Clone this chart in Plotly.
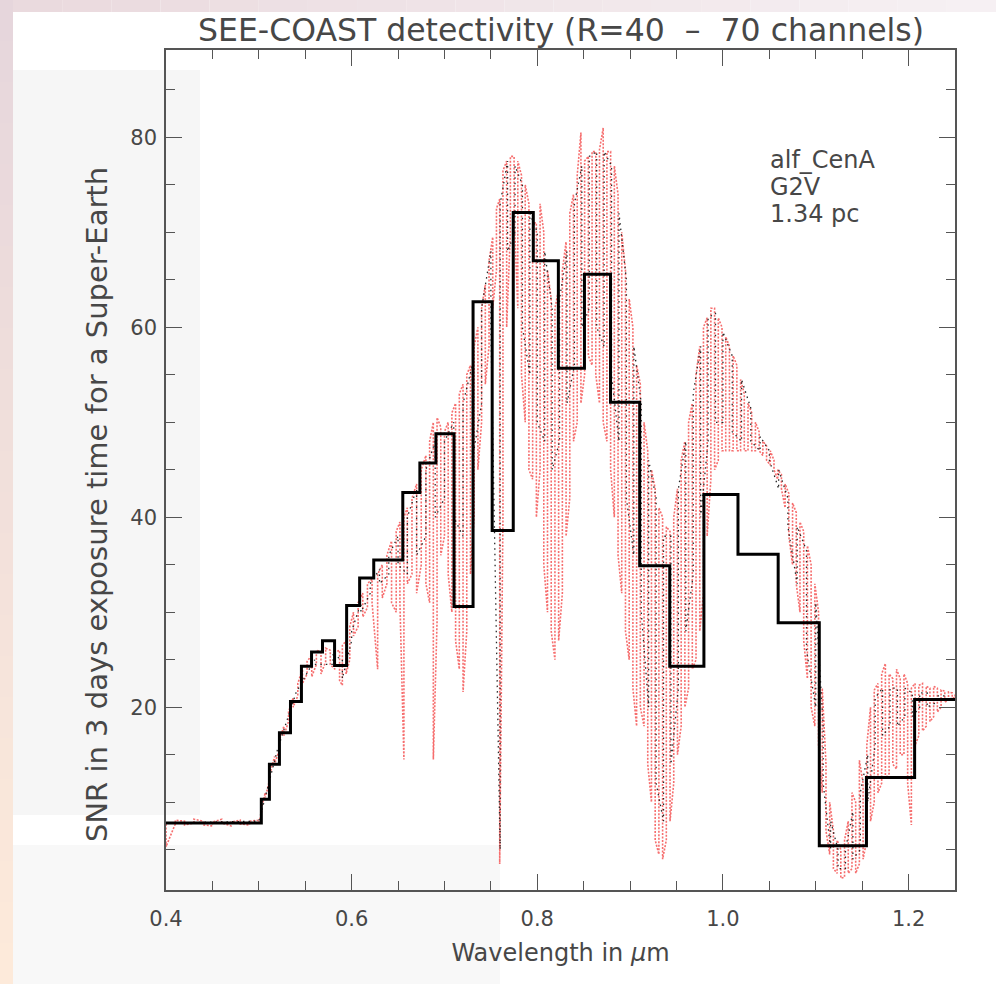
import plotly.graph_objects as go

# ---------------------------------------------------------------
# Binned detectivity (R = 40-70 channels): bin edges and SNR per bin
# ---------------------------------------------------------------
bin_edges = [0.400, 0.5027, 0.5114, 0.5222, 0.5341, 0.5459, 0.5568, 0.5686,
             0.5816, 0.5946, 0.6086, 0.6238, 0.6551, 0.6735, 0.6908, 0.7103,
             0.7308, 0.7514, 0.7741, 0.7957, 0.8227, 0.8508, 0.8789, 0.9103,
             0.9427, 0.9795, 1.0162, 1.0595, 1.1038, 1.1546, 1.2065, 1.250]
bin_snr = [7.8, 10.3, 14.0, 17.3, 20.6, 24.3, 25.8, 27.0, 24.4, 30.7, 33.6,
           35.5, 42.6, 45.7, 48.8, 30.6, 62.7, 38.6, 72.1, 67.0, 55.7, 65.6,
           52.1, 34.9, 24.3, 42.4, 36.1, 28.9, 5.4, 12.6, 20.8]

# ---------------------------------------------------------------
# Full-resolution SNR spectrum: upper / lower extent at each wavelength
# ---------------------------------------------------------------
spec_wl = [0.400, 0.410, 0.420, 0.430, 0.440, 0.450, 0.460, 0.470, 0.480, 0.490,
           0.500, 0.503, 0.507, 0.512, 0.517, 0.522, 0.527, 0.532, 0.537, 0.542,
           0.547, 0.552, 0.557, 0.562, 0.567, 0.572, 0.577, 0.582, 0.587, 0.590,
           0.594, 0.598, 0.602, 0.607, 0.612, 0.617, 0.622, 0.628, 0.633, 0.638,
           0.643, 0.648, 0.652, 0.6563, 0.660, 0.665, 0.670, 0.675, 0.680, 0.684,
           0.688, 0.692, 0.696, 0.700, 0.704, 0.708, 0.712, 0.716, 0.720, 0.724,
           0.728, 0.732, 0.736, 0.740, 0.744, 0.748, 0.752, 0.756, 0.7595, 0.763,
           0.767, 0.771, 0.775, 0.779, 0.783, 0.787, 0.791, 0.795, 0.799, 0.803,
           0.807, 0.811, 0.815, 0.819, 0.823, 0.827, 0.831, 0.835, 0.839, 0.843,
           0.847, 0.851, 0.855, 0.859, 0.863, 0.867, 0.871, 0.875, 0.879, 0.883,
           0.887, 0.891, 0.895, 0.899, 0.903, 0.907, 0.911, 0.915, 0.919, 0.923,
           0.927, 0.931, 0.935, 0.939, 0.943, 0.947, 0.951, 0.955, 0.959, 0.963,
           0.967, 0.971, 0.975, 0.979, 0.983, 0.987, 0.991, 0.995, 0.999, 1.003,
           1.007, 1.011, 1.015, 1.019, 1.023, 1.027, 1.031, 1.035, 1.039, 1.043,
           1.047, 1.051, 1.055, 1.059, 1.063, 1.067, 1.071, 1.075, 1.079, 1.083,
           1.087, 1.091, 1.095, 1.099, 1.103, 1.107, 1.111, 1.115, 1.119, 1.123,
           1.127, 1.131, 1.135, 1.139, 1.143, 1.147, 1.151, 1.155, 1.159, 1.163,
           1.167, 1.171, 1.175, 1.179, 1.183, 1.187, 1.191, 1.195, 1.199, 1.203,
           1.207, 1.211, 1.215, 1.219, 1.223, 1.227, 1.231, 1.235, 1.239, 1.243,
           1.247, 1.250]
spec_hi = [7.7, 8.1, 8.0, 8.2, 8.0, 7.9, 8.2, 7.9, 8.1, 8.0,
           8.1, 9.5, 11.0, 13.0, 14.8, 16.5, 18.0, 19.5, 21.0, 22.5,
           24.0, 24.8, 25.5, 26.0, 25.8, 26.2, 26.0, 25.8, 26.0, 26.5,
           27.0, 28.5, 30.0, 31.0, 32.0, 33.0, 33.5, 34.0, 35.0, 36.0,
           37.5, 38.5, 39.5, 40.0, 41.0, 42.0, 43.5, 45.0, 46.5, 48.0,
           50.0, 50.5, 49.5, 49.0, 50.0, 51.0, 52.0, 53.0, 54.0, 55.0,
           56.0, 58.0, 60.0, 62.0, 64.5, 67.0, 69.5, 72.5, 73.5, 76.5,
           77.5, 78.0, 78.0, 77.5, 76.0, 75.0, 73.0, 71.0, 71.0, 73.0,
           70.0, 66.0, 63.0, 62.0, 64.0, 66.0, 69.0, 72.0, 74.0, 76.0,
           80.5, 77.5, 78.0, 78.5, 78.5, 78.7, 81.0, 78.5, 78.5, 77.0,
           74.0, 70.0, 66.0, 63.0, 60.0, 56.0, 54.0, 50.0, 47.0, 45.0,
           43.0, 41.0, 40.0, 39.0, 38.5, 40.0, 43.0, 46.0, 48.0, 50.0,
           52.0, 55.0, 58.0, 60.0, 61.0, 62.0, 62.0, 61.0, 60.0, 59.0,
           58.0, 57.0, 56.0, 54.5, 53.0, 52.0, 51.0, 50.0, 49.0, 48.0,
           47.5, 47.0, 46.0, 45.0, 44.5, 43.5, 42.5, 41.5, 40.5, 39.5,
           38.5, 37.0, 35.0, 33.0, 30.0, 22.0, 14.0, 10.0, 7.0, 6.0,
           5.0, 6.0, 8.0, 11.0, 10.0, 14.4, 12.0, 16.0, 20.0, 21.8,
           22.5, 23.5, 24.6, 23.5, 23.0, 24.0, 23.0, 23.5, 22.5, 22.0,
           22.5, 22.3, 22.5, 22.2, 22.0, 22.2, 22.0, 21.8, 21.7, 21.6,
           21.5, 21.5]
spec_lo = [5.3, 7.7, 7.6, 7.8, 7.6, 7.5, 7.8, 7.5, 7.7, 7.6,
           7.7, 9.0, 10.5, 12.5, 14.0, 15.5, 17.0, 18.5, 20.0, 21.2,
           22.5, 23.5, 23.2, 24.5, 23.5, 24.8, 24.5, 24.0, 22.8, 22.3,
           23.5, 25.0, 27.5, 28.5, 29.5, 30.5, 31.0, 24.0, 31.5, 33.0,
           31.0, 30.0, 31.0, 14.5, 33.0, 34.0, 32.0, 35.0, 33.0, 31.0,
           14.5, 29.0, 36.0, 38.0, 34.0, 30.0, 27.0, 24.0, 21.6, 28.0,
           34.0, 40.0, 45.0, 50.0, 54.0, 58.0, 62.0, 66.0, 3.5, 40.0,
           60.0, 70.0, 72.0, 62.0, 55.0, 50.0, 45.0, 44.0, 40.0, 45.0,
           35.0, 30.0, 28.0, 25.0, 27.0, 32.0, 38.0, 42.0, 48.0, 50.0,
           52.0, 55.0, 57.0, 56.0, 55.0, 52.0, 50.0, 48.0, 45.0, 40.0,
           36.0, 32.0, 28.0, 25.0, 22.0, 18.0, 20.0, 18.0, 14.0, 10.0,
           6.0, 4.5, 4.0, 6.0, 8.0, 12.0, 15.0, 18.0, 20.0, 22.0,
           24.0, 25.0, 28.0, 32.0, 38.0, 44.0, 45.0, 46.0, 47.0, 47.0,
           47.0, 47.0, 47.0, 47.0, 47.0, 47.0, 47.0, 47.0, 47.0, 46.5,
           46.0, 45.5, 45.0, 44.0, 43.0, 41.0, 38.0, 35.0, 33.0, 30.0,
           27.0, 23.0, 20.0, 18.0, 16.0, 11.0, 7.0, 4.5, 3.0, 2.5,
           2.0, 2.1, 2.5, 3.0, 2.5, 3.5, 4.0, 6.0, 8.0, 10.0,
           11.0, 12.0, 12.5, 13.0, 14.0, 13.5, 15.0, 15.0, 12.0, 7.6,
           16.0, 17.0, 17.5, 18.0, 18.5, 19.0, 19.5, 20.0, 20.5, 20.8,
           21.0, 21.0]

# ---------------------------------------------------------------
# Lower-resolution SNR spectrum (black dotted)
# ---------------------------------------------------------------
coarse_wl = [0.400, 0.450, 0.500, 0.505, 0.520, 0.540, 0.560, 0.580, 0.590, 0.600,
             0.610, 0.620, 0.630, 0.640, 0.650, 0.660, 0.670, 0.680, 0.690, 0.700,
             0.710, 0.720, 0.730, 0.740, 0.750, 0.760, 0.768, 0.776, 0.784, 0.792,
             0.800, 0.808, 0.816, 0.824, 0.832, 0.840, 0.848, 0.856, 0.864, 0.872,
             0.880, 0.888, 0.896, 0.904, 0.912, 0.920, 0.928, 0.936, 0.944, 0.952,
             0.960, 0.968, 0.976, 0.984, 0.992, 1.000, 1.010, 1.020, 1.030, 1.040,
             1.050, 1.060, 1.070, 1.080, 1.090, 1.100, 1.108, 1.116, 1.124, 1.132,
             1.140, 1.148, 1.156, 1.164, 1.172, 1.180, 1.188, 1.196, 1.204, 1.212,
             1.220, 1.230, 1.240, 1.250]
coarse_hi = [7.8, 7.9, 8.0, 9.8, 15.5, 21.5, 25.0, 25.5, 25.0, 28.0,
             31.0, 33.0, 34.5, 36.0, 38.0, 40.0, 43.0, 45.0, 48.0, 48.0,
             50.0, 52.0, 56.0, 62.0, 68.0, 73.0, 77.5, 77.0, 75.0, 72.0,
             70.0, 68.0, 62.0, 63.0, 68.0, 73.0, 77.0, 78.0, 78.5, 78.5,
             77.0, 72.0, 65.0, 58.0, 52.0, 46.0, 42.0, 38.0, 38.0, 43.0,
             48.0, 53.0, 58.0, 61.0, 61.5, 59.5, 57.0, 54.5, 51.5, 48.5,
             47.0, 45.0, 42.0, 39.0, 36.5, 31.0, 18.0, 8.0, 5.0, 5.0,
             9.0, 11.0, 15.0, 21.0, 22.0, 22.0, 22.0, 22.0, 21.5, 21.5,
             21.5, 21.2, 21.2, 21.0]
coarse_lo = [7.8, 7.9, 8.0, 9.8, 15.5, 21.5, 24.5, 24.5, 23.0, 27.0,
             30.0, 32.0, 33.0, 34.0, 35.0, 34.0, 36.0, 38.0, 40.0, 42.0,
             40.0, 38.0, 46.0, 52.0, 60.0, 5.0, 68.0, 70.0, 60.0, 55.0,
             50.0, 48.0, 45.0, 48.0, 52.0, 56.0, 60.0, 62.0, 60.0, 58.0,
             55.0, 48.0, 42.0, 36.0, 30.0, 20.0, 12.0, 8.0, 14.0, 22.0,
             28.0, 34.0, 40.0, 48.0, 50.0, 50.0, 49.0, 48.0, 48.0, 47.0,
             46.0, 43.0, 39.0, 33.0, 26.0, 20.0, 12.0, 5.0, 3.0, 3.0,
             4.0, 5.0, 10.0, 16.0, 17.0, 18.0, 18.0, 19.0, 19.0, 20.0,
             20.0, 20.5, 20.8, 21.0]

# Axis / label text
title_text = "SEE-COAST detectivity (R=40  \u2013  70 channels)"
x_title = "Wavelength in <i>\u03bc</i>m"
y_title = "SNR in 3 days exposure time for a Super-Earth"
star_info = ["alf_CenA", "G2V", "1.34 pc"]


def serpentine(wl, hi, lo):
    """Trace each wavelength's vertical extent, alternating direction."""
    xs, ys = [], []
    for i, (w, h, l) in enumerate(zip(wl, hi, lo)):
        xs += [w, w]
        ys += [h, l] if i % 2 == 0 else [l, h]
    return xs, ys


fig = go.Figure()

sx, sy = serpentine(spec_wl, spec_hi, spec_lo)
fig.add_trace(go.Scatter(
    x=sx, y=sy, mode="lines",
    line=dict(color="rgb(246,110,110)", width=1.6, dash="2px,1.5px"),
    hoverinfo="skip", showlegend=False))

cx, cy = serpentine(coarse_wl, coarse_hi, coarse_lo)
fig.add_trace(go.Scatter(
    x=cx, y=cy, mode="lines",
    line=dict(color="rgb(40,40,40)", width=1.3, dash="1.5px,4px"),
    hoverinfo="skip", showlegend=False))

# Binned SNR as a histogram-style step line
fig.add_trace(go.Scatter(
    x=bin_edges, y=bin_snr + [bin_snr[-1]], mode="lines",
    line=dict(color="black", width=3, shape="hv"),
    hoverinfo="skip", showlegend=False))

# Page geometry helpers for the backdrop panels and labels
W, H = 996, 984
ML, MR, MT, MB = 166, 41, 50, 94
PW, PH = W - ML - MR, H - MT - MB


def px(x):
    return (x - ML) / PW


def py(y):
    return (H - MB - y) / PH


shapes = []
# soft vertical tint along the left page edge
n = 24
top_c = (230, 214, 220)
bot_c = (253, 234, 218)
for k in range(n):
    t = k / (n - 1)
    c = tuple(int(round(top_c[j] + (bot_c[j] - top_c[j]) * t)) for j in range(3))
    shapes.append(dict(type="rect", xref="paper", yref="paper",
                       x0=px(0), x1=px(13), y0=py(k * H / n), y1=py((k + 1) * H / n),
                       fillcolor="rgb(%d,%d,%d)" % c, line_width=0, layer="below"))
# tint along the top page edge, fading to the right
m = 20
left_c = (234, 218, 222)
right_c = (246, 240, 243)
for k in range(m):
    t = k / (m - 1)
    c = tuple(int(round(left_c[j] + (right_c[j] - left_c[j]) * t)) for j in range(3))
    shapes.append(dict(type="rect", xref="paper", yref="paper",
                       x0=px(13 + k * (W - 13) / m), x1=px(13 + (k + 1) * (W - 13) / m),
                       y0=py(0), y1=py(12),
                       fillcolor="rgb(%d,%d,%d)" % c, line_width=0, layer="below"))
# light grey panels
shapes.append(dict(type="rect", xref="paper", yref="paper",
                   x0=px(13), x1=px(200), y0=py(70), y1=py(815),
                   fillcolor="#f6f6f6", line_width=0, layer="below"))
shapes.append(dict(type="rect", xref="paper", yref="paper",
                   x0=px(13), x1=px(500), y0=py(845), y1=py(H),
                   fillcolor="#f8f8f8", line_width=0, layer="below"))

font_family = "DejaVu Sans"
text_color = "#474747"
axis_color = "#555555"

# star name / spectral type / distance, one line each
notes = [dict(text=line, xref="paper", yref="paper",
              x=px(768), y=py(160 + 27 * i), xanchor="left", yanchor="middle",
              showarrow=False,
              font=dict(size=24, family=font_family, color=text_color))
         for i, line in enumerate(star_info)]
# vertical axis label
notes.append(dict(text=y_title, xref="paper", yref="paper",
                  x=px(97), y=py(505), xanchor="center", yanchor="middle",
                  textangle=-90, showarrow=False,
                  font=dict(size=29, family=font_family, color=text_color)))

fig.update_layout(
    width=W, height=H,
    margin=dict(l=ML, r=MR, t=MT, b=MB, autoexpand=False),
    paper_bgcolor="white",
    plot_bgcolor="rgba(0,0,0,0)",
    shapes=shapes,
    font=dict(family=font_family, color=text_color, size=20),
    title=dict(text=title_text, x=561 / W, xanchor="center", xref="container",
               y=1 - 30 / H, yanchor="middle", yref="container",
               font=dict(size=31.5, family=font_family, color=text_color)),
    annotations=notes,
)

fig.update_xaxes(
    range=[0.4, 1.25], tick0=0.4, dtick=0.2, tickformat=".1f",
    showgrid=False, zeroline=False,
    showline=True, linecolor=axis_color, linewidth=1.5, mirror="ticks",
    ticks="inside", ticklen=16, tickwidth=1.3, tickcolor=axis_color,
    minor=dict(ticks="inside", ticklen=9, dtick=0.05, tick0=0.4,
               tickcolor=axis_color, tickwidth=1.2),
    tickfont=dict(size=21, family=font_family, color=text_color),
    ticklabelstandoff=9,
    title=dict(text=x_title, standoff=14,
               font=dict(size=24, family=font_family, color=text_color)),
)
fig.update_yaxes(
    range=[0.75, 89.2], tick0=0, dtick=20,
    showgrid=False, zeroline=False,
    showline=True, linecolor=axis_color, linewidth=1.5, mirror="ticks",
    ticks="inside", ticklen=16, tickwidth=1.3, tickcolor=axis_color,
    minor=dict(ticks="inside", ticklen=9, dtick=5, tick0=0,
               tickcolor=axis_color, tickwidth=1.2),
    tickfont=dict(size=21, family=font_family, color=text_color),
    ticklabelstandoff=3,
)

fig.write_html("out.html")
